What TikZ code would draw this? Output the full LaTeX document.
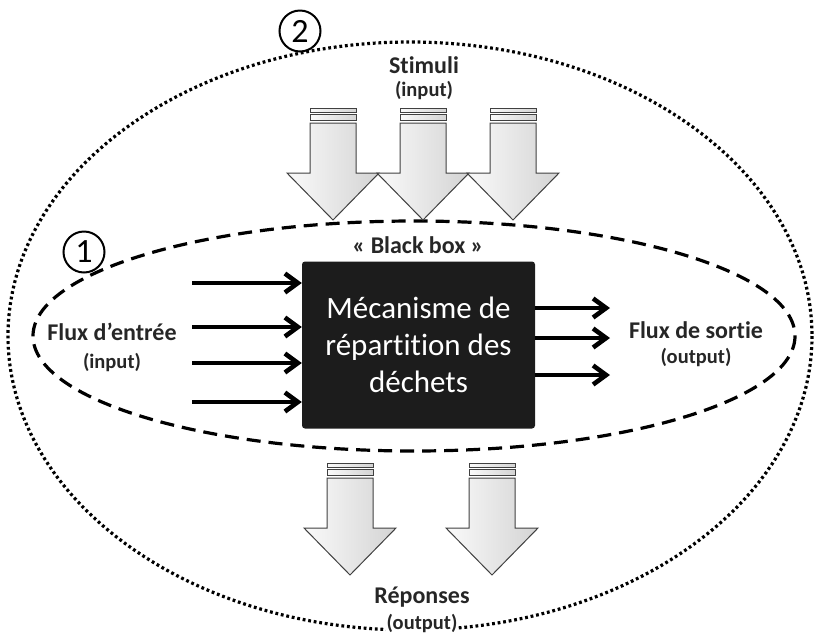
\documentclass[tikz,border=0pt]{standalone}
\usepackage{fontspec}
\setmainfont{Carlito}[Ligatures={TeX,NoCommon}]
\usetikzlibrary{arrows.meta}
\definecolor{boxblack}{HTML}{1C1C1C}
\definecolor{arrowgray}{HTML}{404040}

\tikzset{
  label big/.style={font=\fontsize{24}{28}\selectfont\bfseries, text=black!85},
  label small/.style={font=\fontsize{20.5}{24}\selectfont\bfseries, text=black!85},
  num circle/.style={circle, draw, line width=2pt, fill=white, minimum size=41pt, inner sep=0pt, font=\fontsize{34}{36}\selectfont},
  flow arrow/.style={->, line width=4.6pt},
  block arrow/.style={draw=arrowgray, line width=1pt, left color=black!2, right color=black!17},
}

% grey block arrow: centre x, top y
\newcommand{\blockarrow}[2]{%
  \draw [block arrow] (#1-23,#2) rectangle (#1+23,#2+4);
  \draw [block arrow] (#1-23,#2+6) rectangle (#1+23,#2+12);
  \draw [block arrow] (#1-23,#2+15) -- (#1+23,#2+15) -- (#1+23,#2+65) -- (#1+46,#2+65)
    -- (#1,#2+112) -- (#1-46,#2+65) -- (#1-23,#2+65) -- cycle;
}

\begin{document}
\begin{tikzpicture}[x=1pt, y=-1pt, >={Straight Barb[length=13pt,width=19pt]}]

\useasboundingbox (0,0) rectangle (815,641);

\draw [line width=3.2pt, dash pattern=on 2.8pt off 2.8pt] (410,336) ellipse [x radius=402, y radius=294];
\draw [line width=3.2pt, dash pattern=on 14pt off 8pt] (414,336) ellipse [x radius=381, y radius=115];

\node [fill=boxblack, rounded corners=3pt, minimum width=233pt, minimum height=167pt,
  text=white, align=center, font=\fontsize{31}{37}\selectfont] (box) at (418.5,345)
  {Mécanisme de\\répartition des\\déchets};

\node [label big] (blackbox) at (418,245) {« Black box »};

\foreach \y [count=\i] in {283,327,363,402}
  \coordinate (in-\i) at (192,\y);

\foreach \y [count=\i] in {308,338,375}
  \coordinate (out-\i) at (610,\y);

\foreach \i in {1,...,4}
  \draw [flow arrow] (in-\i) -- (in-\i -| box.west);

\foreach \i in {1,...,3}
  \draw [flow arrow] (out-\i -| box.east) -- (out-\i);

\foreach \x in {333,423,513} {\blockarrow{\x}{108}} % stimuli

\foreach \x in {350,492} {\blockarrow{\x}{463}} % réponses

\node [label big] (stimuli) at (424,65) {Stimuli};
\node [label small] (stimuli-sub) at (424,90) {(input)};

\node [label big] (entree) at (112,332) {Flux d’entrée};
\node [label small] (entree-sub) at (112,362) {(input)};

\node [label big] (sortie) at (696,330) {Flux de sortie};
\node [label small] (sortie-sub) at (696,357) {(output)};

\node [label big] (reponses) at (422,597) {Réponses};
\node [label small, fill=white, inner sep=1pt] (reponses-sub) at (422,623) {(output)};

\node [num circle] (circle-1) at (84,252) {1};
\node [num circle] (circle-2) at (300,31) {2};

\end{tikzpicture}
\end{document}
